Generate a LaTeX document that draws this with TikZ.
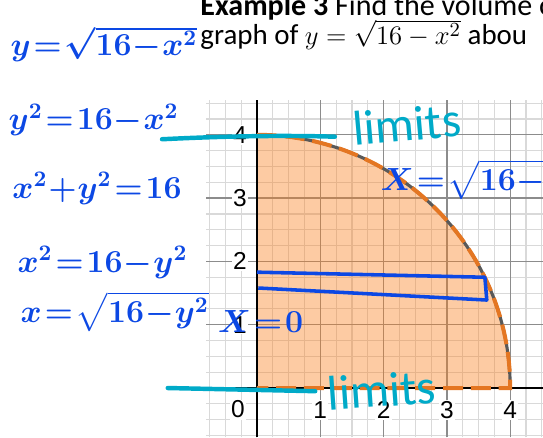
\documentclass[tikz,border=0pt]{standalone}
\usepackage{amsmath}
\usepackage{fontspec}
\setmainfont{Carlito}
\newfontfamily\axisfont{Liberation Sans}
\usepackage{tikz}
\usetikzlibrary{calc}
\usepackage{xcolor}
\definecolor{inkblue}{RGB}{12,72,228}
\definecolor{inkcyan}{RGB}{0,170,200}
\definecolor{regionorange}{RGB}{250,126,25}
\definecolor{edgeorange}{RGB}{228,118,34}

\begin{document}
\begin{tikzpicture}[x=1cm, y=1cm,
    hand/.style={inkblue, inner sep=0pt, font=\fontsize{14.5}{16}\selectfont\boldmath,
        execute at begin node={\thickmuskip=1.5mu \medmuskip=0.5mu}},
    limitlbl/.style={inkcyan, inner sep=0pt, font=\fontsize{22}{24}\selectfont},
    ticklbl/.style={fill=white, inner sep=0.6pt, font=\axisfont\fontsize{11}{12}\selectfont}]
    \useasboundingbox (-4.06,-0.774) rectangle (4.518,6.13);

    % grid
    \draw[black!15, line width=0.5pt, step=0.25] (-0.8,-0.78) grid (4.52,4.55);
    \draw[black!45, line width=0.6pt, step=1] (-0.8,-0.78) grid (4.52,4.55);

    % region
    \fill[regionorange, fill opacity=0.4] (0,0) -- (4,0) arc[start angle=0, end angle=90, radius=4] -- cycle;

    \draw[black, line width=1.3pt] (-0.8,0) -- (4.52,0);
    \draw[black, line width=1.3pt] (0,-0.78) -- (0,4.55);

    \draw[black!65, line width=1.4pt] (0,4) arc[start angle=90, end angle=0, radius=4];
    \draw[edgeorange, line width=1.8pt, dash pattern=on 9pt off 3.5pt] (0,4) arc[start angle=90, end angle=0, radius=4] -- (0,0);

    \foreach \n in {1,...,4}
        \node[ticklbl] (xl\n) at (\n,-0.35) {\n};
    \foreach \n in {1,...,4}
        \node[ticklbl] (yl\n) at (-0.27,\n) {\n};
    \node[ticklbl] (zero) at (-0.3,-0.34) {0};

    % text of the example
    \node[anchor=base west, inner sep=0pt, font=\fontsize{13.5}{15}\selectfont] (title) at (-0.9,5.89) {\textbf{Example 3} Find the volume o};
    \node[anchor=base west, inner sep=0pt, font=\fontsize{13}{15}\selectfont] (line2) at (-0.9,5.43) {graph of $y=\sqrt{16-x^2}$ abou};

    % handwriting
    \node[hand, anchor=base west] (eqa) at (-3.90,5.26) {$y=\sqrt{16-x^2}$};
    \node[hand, anchor=base west] (eqb) at (-3.93,4.08) {$y^2=16-x^2$};
    \node[hand, anchor=base west] (eqc) at (-3.87,3.00) {$x^2+y^2=16$};
    \node[hand, anchor=base west] (eqd) at (-3.79,1.83) {$x^2=16-y^2$};
    \node[hand, anchor=base west] (eqe) at (-3.74,1.04) {$x=\sqrt{16-y^2}$};
    \node[hand, anchor=base west] (left) at (-0.62,0.87) {$X=0$};
    \node[hand, anchor=base west] (right) at (1.95,3.12) {$X=\sqrt{16-y^2}$};

    \draw[inkblue, line width=1.6pt, line join=round] (0,1.83) -- (3.6,1.75) -- (3.63,1.39) -- (0.02,1.58);

    \node[limitlbl, rotate=5] (limtop) at (2.37,4.17) {limits};
    \node[limitlbl, rotate=4] (limbot) at (1.97,-0.03) {limits};
    \draw[inkcyan, line width=2pt, line cap=round] (-1.5,3.93) .. controls (-0.3,3.99) and (0.6,3.99) .. (1.23,3.97);
    \draw[inkcyan, line width=2pt, line cap=round] (-1.41,0) -- (0.92,-0.05);
\end{tikzpicture}
\end{document}
